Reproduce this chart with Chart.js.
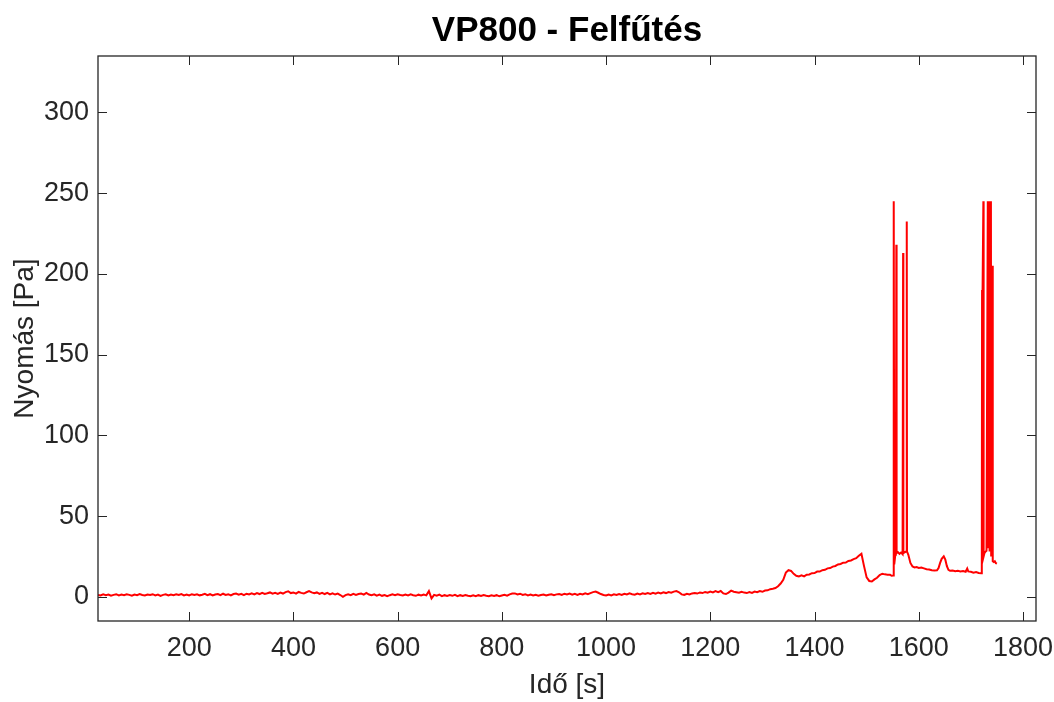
<!DOCTYPE html>
<html>
<head>
<meta charset="utf-8">
<script src="https://cdn.jsdelivr.net/npm/chart.js@4.4.1/dist/chart.umd.min.js"></script>
<style>
  html, body { margin: 0; padding: 0; background: #fff; }
  #wrap { width: 1054px; height: 702px; position: relative; }
</style>
</head>
<body>
<div id="wrap"><canvas id="chart"></canvas></div>
<script>
// Nyomás (Pa) az idő (s) függvényében
const times = [
  25, 30, 35, 40, 45, 50, 55, 60, 65, 70,
  75, 80, 85, 90, 95, 100, 105, 110, 115, 120,
  125, 130, 135, 140, 145, 150, 155, 160, 165, 170,
  175, 180, 185, 190, 195, 200, 205, 210, 215, 220,
  225, 230, 235, 240, 245, 250, 255, 260, 265, 270,
  275, 280, 285, 290, 295, 300, 305, 310, 315, 320,
  325, 330, 335, 340, 345, 350, 355, 360, 365, 370,
  375, 380, 385, 390, 395, 400, 405, 410, 415, 420,
  425, 430, 435, 440, 445, 450, 455, 460, 465, 470,
  475, 480, 485, 490, 495, 500, 505, 510, 515, 520,
  525, 530, 535, 540, 545, 550, 555, 560, 565, 570,
  575, 580, 585, 590, 595, 600, 605, 610, 615, 620,
  625, 630, 635, 640, 645, 650, 655, 660, 665, 670,
  675, 680, 685, 690, 695, 700, 705, 710, 715, 720,
  725, 730, 735, 740, 745, 750, 755, 760, 765, 770,
  775, 780, 785, 790, 795, 800, 805, 810, 815, 820,
  825, 830, 835, 840, 845, 850, 855, 860, 865, 870,
  875, 880, 885, 890, 895, 900, 905, 910, 915, 920,
  925, 930, 935, 940, 945, 950, 955, 960, 965, 970,
  975, 980, 985, 990, 995, 1000, 1005, 1010, 1015, 1020,
  1025, 1030, 1035, 1040, 1045, 1050, 1055, 1060, 1065, 1070,
  1075, 1080, 1085, 1090, 1095, 1100, 1105, 1110, 1115, 1120,
  1125, 1130, 1135, 1140, 1145, 1150, 1155, 1160, 1165, 1170,
  1175, 1180, 1185, 1190, 1195, 1200, 1205, 1210, 1215, 1220,
  1225, 1230, 1235, 1240, 1245, 1250, 1255, 1260, 1265, 1270,
  1275, 1280, 1285, 1290, 1295, 1300, 1305, 1310, 1315, 1320,
  1325, 1330, 1335, 1340, 1345, 1350, 1355, 1360, 1365, 1370,
  1375, 1380, 1385, 1390, 1395, 1400, 1405, 1410, 1415, 1420,
  1425, 1430, 1435, 1440, 1445, 1450, 1455, 1460, 1465, 1470,
  1475, 1480, 1485, 1490, 1495, 1500, 1505, 1510, 1515, 1520,
  1525, 1530, 1535, 1540, 1545, 1548, 1551, 1551.5, 1552, 1552.5,
  1553, 1555, 1556, 1557, 1557.5, 1560, 1563, 1566, 1569, 1570,
  1570.5, 1573, 1576, 1577, 1577.5, 1580, 1584, 1588, 1592, 1596,
  1600, 1605, 1610, 1615, 1620, 1625, 1630, 1635, 1638, 1641,
  1644, 1648, 1651, 1654, 1657, 1660, 1665, 1670, 1675, 1680,
  1685, 1690, 1693, 1695, 1700, 1705, 1710, 1715, 1720, 1721,
  1721.5, 1722, 1723, 1724, 1724.5, 1726, 1728, 1730, 1732.5, 1733,
  1735.5, 1736, 1738.5, 1739, 1741.5, 1742, 1744, 1746, 1748, 1750
];

const pressure = [
  1.2, 0.8, 1.5, 1.0, 1.4, 0.7, 1.2, 1.6, 0.9, 1.4,
  1.0, 1.5, 1.2, 0.7, 1.4, 1.0, 1.7, 1.1, 0.8, 1.4,
  1.1, 1.6, 0.9, 1.4, 0.6, 1.2, 1.5, 0.8, 1.4, 1.0,
  1.5, 1.1, 1.7, 0.9, 1.4, 0.8, 1.6, 1.1, 1.5, 0.9,
  1.3, 1.8, 1.0, 1.6, 0.8, 1.4, 1.7, 1.0, 1.9, 1.2,
  1.6, 0.9, 1.7, 2.0, 1.3, 1.8, 1.0, 1.9, 1.4, 2.1,
  1.5, 2.3, 1.7, 2.5, 1.8, 2.2, 2.7, 1.9, 2.4, 1.8,
  2.6, 2.0, 2.9, 3.4, 2.3, 2.7, 2.0, 3.0, 2.4, 2.0,
  2.8, 3.5, 2.7, 2.2, 2.7, 1.8, 2.5, 1.7, 2.4, 1.5,
  2.2, 1.4, 2.0, 1.1, 0.0, 1.0, 1.6, 1.0, 1.8, 1.2,
  1.7, 2.0, 1.3, 2.4, 1.4, 1.0, 1.5, 0.7, 1.3, 0.6,
  1.1, 0.4, 1.0, 1.5, 1.0, 1.6, 1.1, 0.8, 1.4, 0.9,
  1.5, 1.0, 0.6, 1.3, 0.8, 1.4, 0.9, 3.5, -1.0, 1.2,
  0.7, 1.3, 0.4, 1.0, 0.5, 1.1, 0.6, 1.2, 0.4, 1.0,
  0.5, 1.1, 0.6, 0.3, 0.9, 0.4, 1.0, 0.5, 1.1, 0.6,
  0.4, 0.9, 0.5, 1.0, 0.3, 0.8, 1.2, 0.7, 1.5, 2.0,
  2.1, 1.4, 1.9, 1.1, 1.6, 0.9, 1.4, 0.8, 1.2, 0.7,
  1.1, 1.4, 0.8, 1.3, 1.6, 1.0, 1.5, 1.7, 1.1, 1.9,
  1.4, 2.0, 1.3, 1.8, 1.2, 1.9, 1.4, 2.1, 1.6, 2.3,
  2.9, 3.2, 2.5, 1.7, 1.1, 0.8, 1.4, 0.9, 1.5, 1.1,
  1.7, 1.2, 1.9, 1.4, 2.1, 1.6, 1.3, 2.0, 1.5, 2.2,
  1.7, 2.3, 1.8, 2.5, 1.9, 2.6, 2.1, 2.8, 2.3, 2.9,
  2.5, 3.2, 3.5, 2.8, 1.5, 1.2, 1.9, 1.4, 2.1, 2.4,
  2.0, 2.7, 2.3, 3.0, 2.5, 3.2, 2.7, 3.5, 2.9, 3.6,
  2.1, 1.7, 2.6, 3.8, 3.1, 2.8, 2.5, 3.1, 2.6, 2.3,
  2.9, 2.4, 3.2, 2.8, 3.5, 3.1, 3.9, 4.0, 4.7, 5.0,
  5.4, 6.5, 8.2, 10.5, 15.0, 16.5, 16.0, 14.2, 13.0, 12.6,
  13.3, 12.6, 13.7, 13.8, 14.6, 14.7, 15.6, 15.6, 16.5, 16.7,
  17.6, 17.8, 18.7, 19.1, 20.0, 20.3, 21.1, 21.2, 22.2, 22.5,
  23.3, 23.9, 25.4, 26.6, 19.0, 12.0, 9.8, 9.5, 10.8, 11.8,
  13.5, 14.3, 13.9, 13.7, 13.6, 13.0, 13.2, 13.5, 245, 245,
  20, 26, 27, 218, 27, 27.7, 26.6, 27.4, 26.4, 213,
  27, 27.6, 28, 232.5, 28, 26, 21, 18.8, 18.2, 18.4,
  17.9, 18.1, 17.6, 17.1, 16.9, 16.4, 16.3, 16.4, 17.8, 21,
  23.5, 25, 23, 19, 16.7, 16.1, 16.3, 15.9, 16.1, 15.7,
  15.9, 15.5, 17.5, 15.7, 15.5, 14.9, 15.3, 14.7, 14.6, 15,
  190, 40, 191, 245, 25, 27, 28, 28.5, 245, 30,
  245, 28, 245, 25, 205, 22, 21.5, 22, 20.8, 20.5
];

const xTicks = [200, 400, 600, 800, 1000, 1200, 1400, 1600, 1800];
const yTicks = [0, 50, 100, 150, 200, 250, 300];
const chartTitle = 'VP800 - Felfűtés';

const axisColor = '#262626';
const tickFont = { family: 'Liberation Sans, Arial, sans-serif', size: 27 };
const labelFont = { family: 'Liberation Sans, Arial, sans-serif', size: 28 };

// MATLAB-style box with inward tick marks on all four sides, title centred over the axes
const boxTicks = {
    id: 'boxTicks',
    afterDraw(chart) {
        const { ctx, chartArea: a, scales } = chart;
        const len = 9;
        ctx.save();
        ctx.strokeStyle = axisColor;
        ctx.lineWidth = 1;
        ctx.beginPath();
        xTicks.forEach(v => {
            const px = Math.round(scales.x.getPixelForValue(v)) + 0.5;
            ctx.moveTo(px, a.bottom); ctx.lineTo(px, a.bottom - len);
            ctx.moveTo(px, a.top); ctx.lineTo(px, a.top + len);
        });
        yTicks.forEach(v => {
            const py = Math.round(scales.y.getPixelForValue(v)) + 0.5;
            ctx.moveTo(a.left, py); ctx.lineTo(a.left + len, py);
            ctx.moveTo(a.right, py); ctx.lineTo(a.right - len, py);
        });
        ctx.stroke();
        ctx.lineWidth = 1.3;
        ctx.strokeRect(a.left, a.top, a.right - a.left, a.bottom - a.top);

        ctx.fillStyle = '#000';
        ctx.font = 'bold 35px "Liberation Sans", Arial, sans-serif';
        ctx.textAlign = 'center';
        ctx.textBaseline = 'middle';
        ctx.fillText(chartTitle, (a.left + a.right) / 2, 31);
        ctx.restore();
    }
};

const ctx = document.getElementById('chart').getContext('2d');
new Chart(ctx, {
    type: 'line',
    data: {
        labels: times,
        datasets: [{
            label: 'VP800',
            data: pressure,
            borderColor: '#ff0000',
            borderWidth: 2,
            pointRadius: 0,
            fill: false,
            tension: 0
        }]
    },
    options: {
        responsive: true,
        maintainAspectRatio: false,
        animation: false,
        layout: { padding: { left: 0, right: 18, top: 56, bottom: 0 } },
        scales: {
            x: {
                type: 'linear',
                min: 25,
                max: 1825,
                afterBuildTicks: s => { s.ticks = xTicks.map(v => ({ value: v })); },
                afterFit: s => { s.height = 81; s.paddingLeft = 0; s.paddingRight = 0; },
                grid: { display: false, drawTicks: false },
                border: { display: false },
                ticks: { color: axisColor, font: tickFont, padding: 11, maxRotation: 0, callback: v => String(v) },
                title: { display: true, text: 'Idő [s]', color: axisColor, font: labelFont, padding: { top: 0, bottom: 0 } }
            },
            y: {
                min: -15,
                max: 335,
                afterBuildTicks: s => { s.ticks = yTicks.map(v => ({ value: v })); },
                afterFit: s => { s.width = 98; s.paddingTop = 0; s.paddingBottom = 0; },
                grid: { display: false, drawTicks: false },
                border: { display: false },
                ticks: { color: axisColor, font: tickFont, padding: 9, callback: v => String(v) },
                title: { display: true, text: 'Nyomás [Pa]', color: axisColor, font: labelFont, padding: { top: 8, bottom: 0 } }
            }
        },
        plugins: {
            legend: { display: false },
            tooltip: { enabled: false },
            title: { display: false }
        }
    },
    plugins: [boxTicks]
});
</script>
</body>
</html>
